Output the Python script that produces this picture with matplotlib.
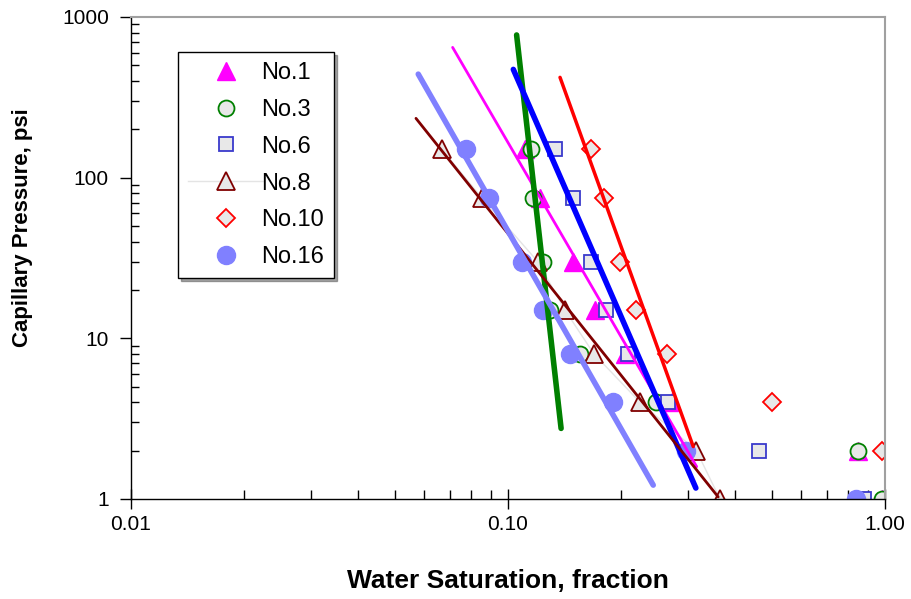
import numpy as np
import matplotlib.pyplot as plt
from matplotlib.ticker import FixedLocator, LogLocator, NullFormatter

plt.rcParams['font.family'] = ['Liberation Sans', 'DejaVu Sans']

# capillary pressure levels, psi
pc = [150, 75, 30, 15, 8, 4, 2, 1]

# water saturation for each sample
sw_no1 = [0.111, 0.1216, 0.149, 0.170, 0.204, 0.272, 0.846, 0.98]
sw_no3 = [0.115, 0.1167, 0.124, 0.129, 0.155, 0.247, 0.846, 0.98]
sw_no6 = [0.1333, 0.149, 0.166, 0.182, 0.2085, 0.266, 0.4635, 0.881]
sw_no8 = [0.0667, 0.0852, 0.120, 0.1416, 0.169, 0.224, 0.316, 0.365]
sw_no10 = [0.1656, 0.180, 0.198, 0.219, 0.264, 0.503, 0.984]
sw_no16 = [0.0774, 0.0892, 0.109, 0.124, 0.146, 0.190, 0.297, 0.838]

# power-law trend lines, (sw, pc) at each end
trend_no1 = ([0.0713, 0.3165], [647, 1.59])
trend_no3 = ([0.1054, 0.1383], [773, 2.75])
trend_no6 = ([0.1033, 0.315], [472, 1.17])
trend_no8 = ([0.0570, 0.361], [234, 1.03])
trend_no10 = ([0.1374, 0.310], [421, 2.12])
trend_no16 = ([0.0578, 0.2428], [441, 1.22])

fig = plt.figure(figsize=(9.12, 5.99), dpi=100)
ax = fig.add_axes([131 / 912, 1 - 499 / 599, 754 / 912, 482 / 599])
ax.set_xscale('log')
ax.set_yscale('log')

light = '#e8e8e8'

# markers
ax.plot(sw_no1, pc, ls='none', marker='^', ms=13, mfc='#ff00ff', mec='#ff00ff', label='No.1', zorder=2)
ax.plot(sw_no3, pc, ls='none', marker='o', ms=11.5, mfc=light, mec='#008000', mew=1.3, label='No.3', zorder=2)
ax.plot(sw_no6, pc, ls='none', marker='s', ms=9.5, mfc=light, mec='#3a3acc', mew=1.3, label='No.6', zorder=2)
ax.plot(sw_no8, pc, ls='-', color='#e4e4e4', lw=1, marker='^', ms=13, mfc=light, mec='#800000', mew=1.3,
        label='No.8', zorder=2)
ax.plot(sw_no10, pc[:len(sw_no10)], ls='none', marker='D', ms=9, mfc=light, mec='#ff0000', mew=1.3,
        label='No.10', zorder=2)
ax.plot(sw_no16, pc, ls='none', marker='o', ms=13, mfc='#8080ff', mec='#8080ff', label='No.16', zorder=2)

# trend lines
ax.plot(*trend_no1, color='#ff00ff', lw=2, solid_capstyle='round', zorder=3)
ax.plot(*trend_no3, color='#008000', lw=4, solid_capstyle='round', zorder=3)
ax.plot(*trend_no6, color='#0000ff', lw=4, solid_capstyle='round', zorder=3)
ax.plot(*trend_no8, color='#800000', lw=2, solid_capstyle='round', zorder=3)
ax.plot(*trend_no10, color='#ff0000', lw=2.5, solid_capstyle='round', zorder=3)
ax.plot(*trend_no16, color='#8080ff', lw=4, solid_capstyle='round', zorder=3)

ax.set_xlim(0.01, 1.0)
ax.set_ylim(1, 1000)

ax.xaxis.set_major_locator(FixedLocator([0.01, 0.1, 1.0]))
ax.set_xticklabels(['0.01', '0.10', '1.00'])
ax.xaxis.set_minor_locator(LogLocator(base=10, subs=np.arange(2, 10)))
ax.xaxis.set_minor_formatter(NullFormatter())
ax.yaxis.set_major_locator(FixedLocator([1, 10, 100, 1000]))
ax.set_yticklabels(['1', '10', '100', '1000'])
ax.yaxis.set_minor_locator(LogLocator(base=10, subs=np.arange(2, 10)))
ax.yaxis.set_minor_formatter(NullFormatter())

ax.tick_params(axis='x', which='major', direction='inout', length=15, width=1, labelsize=15, pad=4)
ax.tick_params(axis='x', which='minor', direction='in', length=6.5, width=1)
ax.tick_params(axis='y', which='major', direction='out', length=8, width=1, labelsize=15, pad=8)
ax.tick_params(axis='y', which='minor', direction='in', length=6, width=1)

for s in ['top', 'right']:
    ax.spines[s].set_color('#a0a0a0')
    ax.spines[s].set_linewidth(1.5)
for s in ['left', 'bottom']:
    ax.spines[s].set_color('black')
    ax.spines[s].set_linewidth(1)

ax.set_xlabel('Water Saturation, fraction', fontsize=19, fontweight='bold')
ax.xaxis.set_label_coords(0.5, -0.146)
ax.set_ylabel('Capillary Pressure, psi', fontsize=16, fontweight='bold')
ax.yaxis.set_label_coords(-0.130, 0.564)

leg = ax.legend(loc='upper left', bbox_to_anchor=(47 / 754, (499 - 52) / 482), borderaxespad=0,
                fontsize=17, frameon=True, fancybox=False, shadow=True, edgecolor='black',
                handlelength=3.2, handletextpad=-0.1, labelspacing=0.63, borderpad=0.42)
leg.get_frame().set_linewidth(1)

fig.savefig('out.png', dpi=100)
